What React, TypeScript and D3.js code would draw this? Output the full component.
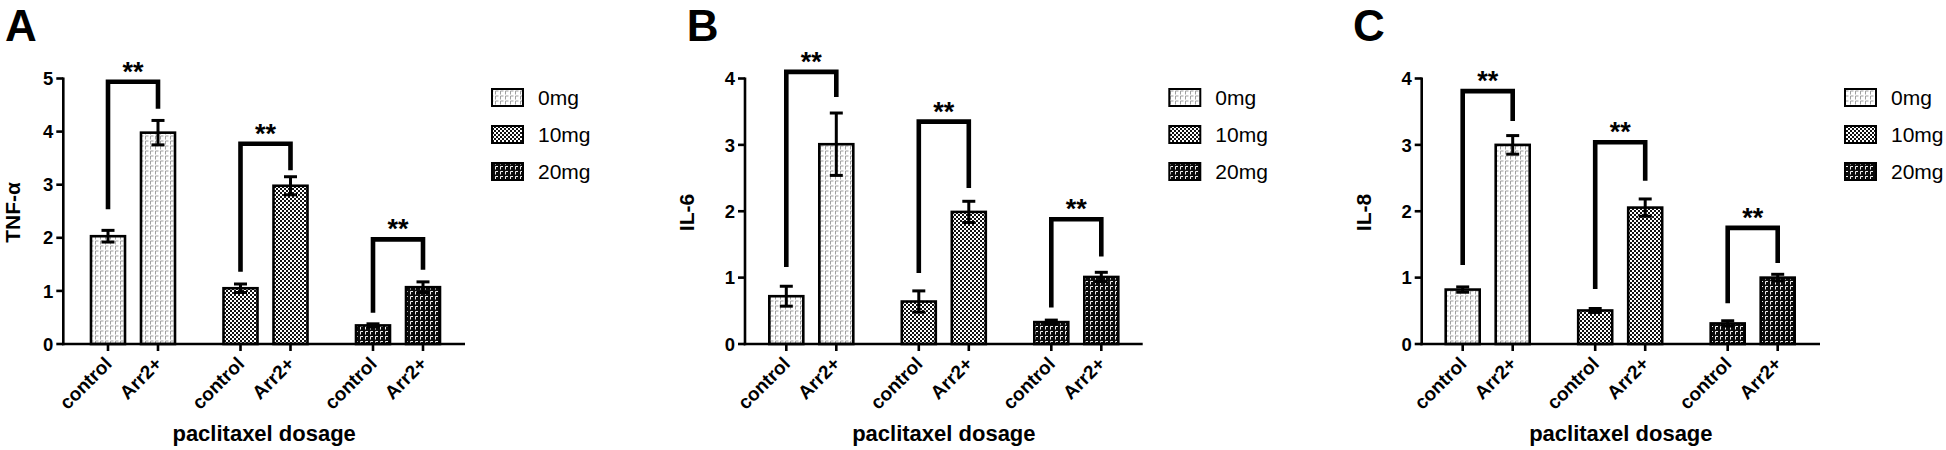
import React from "react";
import * as d3 from "d3";

const groups = ["0mg", "10mg", "20mg"];
const conditions = ["control", "Arr2+"];

const tnfMeans = [[2.03, 3.98], [1.05, 2.98], [0.35, 1.07]];
const tnfErrors = [[0.11, 0.23], [0.08, 0.17], [0.03, 0.1]];
const tnfBrackets = [[4.94, 2.54, 4.43], [3.77, 1.36, 3.27], [1.97, 0.59, 1.4]];
const tnfTicks = [0, 1, 2, 3, 4, 5];

const il6Means = [[0.72, 3.01], [0.64, 1.99], [0.33, 1.01]];
const il6Errors = [[0.15, 0.47], [0.16, 0.16], [0.03, 0.07]];
const il6Brackets = [[4.1, 1.16, 3.72], [3.35, 1.07, 2.35], [1.88, 0.55, 1.32]];
const il6Ticks = [0, 1, 2, 3, 4];

const il8Means = [[0.82, 3.0], [0.505, 2.055], [0.31, 1.0]];
const il8Errors = [[0.04, 0.14], [0.03, 0.13], [0.04, 0.05]];
const il8Brackets = [[3.81, 1.19, 3.36], [3.04, 0.83, 2.46], [1.75, 0.615, 1.22]];
const il8Ticks = [0, 1, 2, 3, 4];

const letters = ["A", "B", "C"];
const yLabels = ["TNF-α", "IL-6", "IL-8"];
const xTitle = "paclitaxel dosage";
const sigLabel = "**";

const panelsData = [
  { means: tnfMeans, errors: tnfErrors, brackets: tnfBrackets, ticks: tnfTicks },
  { means: il6Means, errors: il6Errors, brackets: il6Brackets, ticks: il6Ticks },
  { means: il8Means, errors: il8Errors, brackets: il8Brackets, ticks: il8Ticks },
];

const layouts = [
  { axisX: 63.3, pairMid: 133, axisEnd: 465, letterX: 5, ylabelX: 12, legendX: 492 },
  { axisX: 745, pairMid: 811.3, axisEnd: 1142.7, letterX: 686.7, ylabelX: 686.7, legendX: 1169.3 },
  { axisX: 1421.7, pairMid: 1487.7, axisEnd: 1820, letterX: 1353, ylabelX: 1363.3, legendX: 1845 },
];

const FONT = "'Liberation Sans', Arial, Helvetica, sans-serif";
const Y0 = 344;
const YTOP = 78.5;
const GROUP_STEP = 132.5;
const BAR_W = 34;
const patternIds = ["pat0", "pat10", "pat20"];

function Patterns() {
  return (
    <defs>
      <pattern id="pat0" patternUnits="userSpaceOnUse" width={5} height={5}>
        <rect width={5} height={5} fill="#ffffff" />
        <path d="M0.5 4.5 V1 H3.5" stroke="#a0a0a0" strokeWidth={1} fill="none" />
      </pattern>
      <pattern id="pat10" patternUnits="userSpaceOnUse" width={4} height={4}>
        <rect width={4} height={4} fill="#ffffff" />
        <rect x={0} y={0} width={2} height={2} fill="#111" />
        <rect x={2} y={2} width={2} height={2} fill="#111" />
      </pattern>
      <pattern id="pat20" patternUnits="userSpaceOnUse" width={5} height={5}>
        <rect width={5} height={5} fill="#0a0a0a" />
        <path d="M0.5 4.5 V1.5 H3" stroke="#f0f0f0" strokeWidth={1} fill="none" />
      </pattern>
    </defs>
  );
}

function Panel({ idx }: { idx: number }) {
  const d = panelsData[idx];
  const L = layouts[idx];
  const yMax = d.ticks[d.ticks.length - 1];
  const y = d3.scaleLinear().domain([0, yMax]).range([Y0, YTOP]);
  const gx = d3
    .scalePoint<string>()
    .domain(groups)
    .range([L.pairMid, L.pairMid + GROUP_STEP * (groups.length - 1)]);
  const cx = d3.scalePoint<string>().domain(conditions).range([-25, 25]);
  const xc = (g: string, c: string) => (gx(g) as number) + (cx(c) as number);

  return (
    <g fontFamily={FONT}>
      <text x={L.letterX} y={41} fontSize={44} fontWeight="bold" fill="#000">
        {letters[idx]}
      </text>
      {groups.map((g, gi) =>
        conditions.map((c, ci) => {
          const v = d.means[gi][ci];
          const x = xc(g, c);
          return (
            <rect
              key={g + c}
              x={x - BAR_W / 2}
              y={y(v)}
              width={BAR_W}
              height={Y0 - y(v)}
              fill={`url(#${patternIds[gi]})`}
              stroke="#000"
              strokeWidth={2.6}
            />
          );
        })
      )}
      {groups.map((g, gi) =>
        conditions.map((c, ci) => {
          const v = d.means[gi][ci];
          const e = d.errors[gi][ci];
          const x = xc(g, c);
          return (
            <g key={"e" + g + c} stroke="#000" strokeWidth={3}>
              <line x1={x} x2={x} y1={y(v - e)} y2={y(v + e)} />
              <line x1={x - 6.5} x2={x + 6.5} y1={y(v + e)} y2={y(v + e)} />
              <line x1={x - 6.5} x2={x + 6.5} y1={y(v - e)} y2={y(v - e)} />
            </g>
          );
        })
      )}
      {groups.map((g, gi) => {
        const [top, lb, rb] = d.brackets[gi];
        const xl = xc(g, conditions[0]);
        const xr = xc(g, conditions[1]);
        return (
          <g key={"b" + g}>
            <path
              d={`M${xl} ${y(lb)} V${y(top)} H${xr} V${y(rb)}`}
              fill="none"
              stroke="#000"
              strokeWidth={4.6}
              strokeLinejoin="miter"
            />
            <text
              x={(xl + xr) / 2}
              y={y(top) - 1}
              textAnchor="middle"
              fontSize={27}
              fontWeight="bold"
            >
              {sigLabel}
            </text>
          </g>
        );
      })}
      <line x1={L.axisX} x2={L.axisX} y1={Y0 + 1.25} y2={y(yMax) - 1} stroke="#000" strokeWidth={2.6} />
      {d.ticks.map((t) => (
        <g key={"yt" + t}>
          <line x1={L.axisX - 7} x2={L.axisX} y1={y(t)} y2={y(t)} stroke="#000" strokeWidth={2.6} />
          <text
            x={L.axisX - 10}
            y={y(t)}
            dy="0.36em"
            textAnchor="end"
            fontSize={18.5}
            fontWeight="bold"
          >
            {t}
          </text>
        </g>
      ))}
      <line x1={L.axisX - 1.3} x2={L.axisEnd} y1={Y0} y2={Y0} stroke="#000" strokeWidth={2.6} />
      {groups.map((g) =>
        conditions.map((c) => {
          const x = xc(g, c);
          return (
            <g key={"xt" + g + c}>
              <line x1={x} x2={x} y1={Y0} y2={Y0 + 7} stroke="#000" strokeWidth={2.6} />
              <text
                transform={`translate(${x + 5},${Y0 + 21}) rotate(-45)`}
                textAnchor="end"
                fontSize={19}
                fontWeight="bold"
              >
                {c}
              </text>
            </g>
          );
        })
      )}
      <text
        x={(L.axisX + L.axisEnd) / 2}
        y={441}
        textAnchor="middle"
        fontSize={22}
        fontWeight="bold"
      >
        {xTitle}
      </text>
      <text
        transform={`translate(${L.ylabelX},212.5) rotate(-90)`}
        textAnchor="middle"
        dy="0.36em"
        fontSize={21}
        fontWeight="bold"
      >
        {yLabels[idx]}
      </text>
      {groups.map((g, gi) => {
        const cy = 97.5 + gi * 37;
        return (
          <g key={"lg" + g}>
            <rect
              x={L.legendX}
              y={cy - 8.5}
              width={31}
              height={17}
              fill={`url(#${patternIds[gi]})`}
              stroke="#000"
              strokeWidth={2}
            />
            <text x={L.legendX + 46} y={cy} dy="0.36em" fontSize={21}>
              {g}
            </text>
          </g>
        );
      })}
    </g>
  );
}

export default function App() {
  return (
    <svg
      width={1946}
      height={450}
      style={{ position: "absolute", left: 0, top: 0, background: "#fff" }}
    >
      <Patterns />
      <rect width={1946} height={450} fill="#fff" />
      {[0, 1, 2].map((i) => (
        <Panel key={i} idx={i} />
      ))}
    </svg>
  );
}
